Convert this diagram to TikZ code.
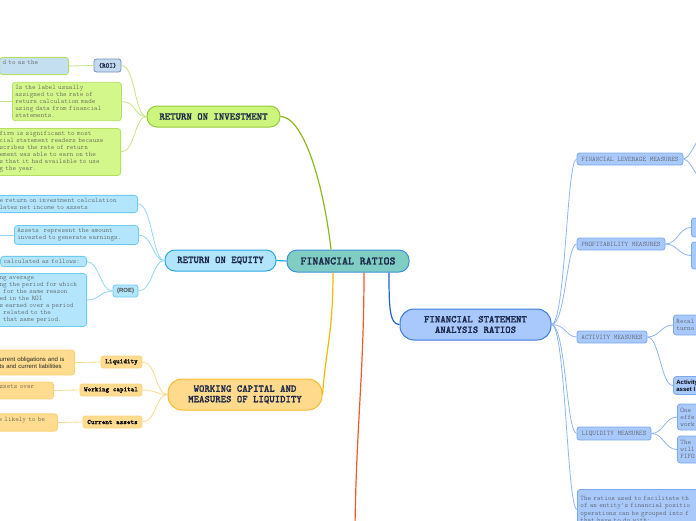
\documentclass[tikz,border=0pt]{standalone}
\usepackage{fontspec}
\setmonofont{lmmonolt10-regular.otf}[BoldFont=lmmonolt10-bold.otf]
\newfontfamily\headtt{lmmonolt10-bold.otf}[FakeBold=1.2]
\newfontfamily\arialf{Liberation Sans}
\definecolor{frfill}{HTML}{80CDC4}
\definecolor{frdraw}{HTML}{3D8FD6}
\definecolor{navy}{HTML}{1B2748}
\definecolor{roifill}{HTML}{CCF57E}
\definecolor{roidraw}{HTML}{95C935}
\definecolor{roiline}{HTML}{8CB81C}
\definecolor{roicfill}{HTML}{D4F78C}
\definecolor{roicdraw}{HTML}{B6DF62}
\definecolor{roiclink}{HTML}{C6E383}
\definecolor{tagfill}{HTML}{C5DAEF}
\definecolor{tagdraw}{HTML}{6F8EBE}
\definecolor{tagcfill}{HTML}{C3DFF0}
\definecolor{roefill}{HTML}{B2E5FB}
\definecolor{roedraw}{HTML}{29A9E1}
\definecolor{roeline}{HTML}{22A7E0}
\definecolor{roecfill}{HTML}{B3E6FC}
\definecolor{roecdraw}{HTML}{6DCBF2}
\definecolor{roeclink}{HTML}{93D6F3}
\definecolor{wclfill}{HTML}{FFDA8C}
\definecolor{wcldraw}{HTML}{F6BB2C}
\definecolor{wclline}{HTML}{F5B800}
\definecolor{wclcfill}{HTML}{FFDC8F}
\definecolor{wclcdraw}{HTML}{FBD27A}
\definecolor{wclclink}{HTML}{FBD98A}
\definecolor{orangeline}{HTML}{F2582B}
\definecolor{fsfill}{HTML}{A9C9FC}
\definecolor{fsdraw}{HTML}{3C7CDF}
\definecolor{fsline}{HTML}{1E60D8}
\definecolor{fscfill}{HTML}{A9C9FB}
\definecolor{fscdraw}{HTML}{7BA9EE}
\definecolor{fsclink}{HTML}{8FB5F0}
\definecolor{txt}{HTML}{4A4A4A}
\begin{document}
\begin{tikzpicture}[x=1pt,y=-1pt,
  mainbox/.style={draw, line width=1pt, rounded corners=10pt, font=\headtt\fontsize{10.3}{10.5}\selectfont, text=navy, align=center, inner sep=0pt},
  subbox/.style={draw, line width=0.8pt, rounded corners=2.5pt, font=\ttfamily\fontsize{6.85}{7}\selectfont, text=txt, inner sep=0pt, align=center, minimum height=12pt},
  notebox/.style={draw, line width=0.8pt, rounded corners=3pt, font=\ttfamily\fontsize{6.85}{7.05}\selectfont, text=txt, inner xsep=3pt, inner ysep=3pt, align=left},
  boldtt/.style={font=\headtt\fontsize{6.85}{7}\selectfont},
  roilink/.style={draw=roiclink, line width=0.8pt},
  roelink/.style={draw=roeclink, line width=0.8pt},
  wcllink/.style={draw=wclclink, line width=0.8pt},
  fslink/.style={draw=fsclink, line width=0.8pt}]
\useasboundingbox (0,0) rectangle (696,520);
\clip (0,0) rectangle (696,520);

% main nodes
\node[mainbox, fill=frfill, draw=frdraw, minimum width=122pt, minimum height=22pt, font=\headtt\fontsize{11.3}{12}\selectfont] (fr) at (348,261) {FINANCIAL RATIOS};
\node[mainbox, fill=roifill, draw=roidraw, minimum width=133pt, minimum height=21pt] (roi) at (213.5,116.5) {RETURN ON INVESTMENT};
\node[mainbox, fill=roefill, draw=roedraw, minimum width=111pt, minimum height=21pt] (roe) at (220.5,260.5) {RETURN ON EQUITY};
\node[mainbox, fill=wclfill, draw=wcldraw, minimum width=154pt, minimum height=31pt, rounded corners=14pt] (wcl) at (245,394.5) {WORKING CAPITAL AND\\MEASURES OF LIQUIDITY};
\node[mainbox, fill=fsfill, draw=fsdraw, minimum width=151pt, minimum height=31pt, rounded corners=14pt] (fsar) at (475.5,324.5) {FINANCIAL STATEMENT\\ ANALYSIS RATIOS};

% ROI branch
\node[subbox, boldtt, text=navy, fill=tagfill, draw=tagdraw, minimum width=27pt, minimum height=13pt] (roitag) at (107.5,65.5) {(ROI)};
\node[notebox, fill=tagcfill, draw=roicdraw, text width=63pt, anchor=east] (roitagc) at (69,66) {d to as the\\\mbox{}};
\node[notebox, fill=roicfill, draw=roicdraw, text width=103pt, anchor=west] (roi2) at (12,101.5) {Is the label usually\\assigned to the rate of\\return calculation made\\using data from financial\\statements.};
\node[notebox, fill=roicfill, draw=roicdraw, text width=118pt, anchor=east] (roi3) at (121,152) {firm is significant to most\\cial statement readers because\\scribes the rate of return\\ement was able to earn on the\\s that it had available to use\\g the year.};

% ROE branch
\node[subbox, font=\arialf\bfseries\fontsize{6}{7}\selectfont, text=txt, fill=roecfill, draw=roecdraw, minimum width=25pt] (roetag) at (125.5,291) {(ROE)};
\node[notebox, fill=roecfill, draw=roecdraw, text width=135pt, anchor=east] (roe1) at (138,204) {e return on investment calculation\\lates net income to assets};
\node[notebox, fill=roecfill, draw=roecdraw, text width=118pt, anchor=west] (roe2) at (14,235) {Assets\ \ represent the amount\\invested to generate earnings.};
\node[notebox, fill=roecfill, draw=roecdraw, text width=80pt, anchor=east] (roea) at (87,261.5) {calculated as follows:};
\node[notebox, fill=roecfill, draw=roecdraw, text width=84pt, anchor=east] (roeb) at (87,300) {ng average\\ng the period for which\\\phantom{x}for the same reason\\ed in the ROI\\s earned over a period\\\phantom{x}related to the\\\phantom{x}that same period.};

% WCL branch
\node[subbox, boldtt, text=black, fill=wclcfill, draw=wclcdraw, minimum width=41pt] (liq) at (121.5,362) {Liquidity};
\node[subbox, boldtt, text=black, fill=wclcfill, draw=wclcdraw, minimum width=62pt] (wc) at (111,390) {Working capital};
\node[subbox, boldtt, text=black, fill=wclcfill, draw=wclcdraw, minimum width=59pt] (ca) at (112.5,422) {Current assets};
\node[notebox, font=\arialf\fontsize{6}{7}\selectfont, text=black!85, fill=wclcfill, draw=wclcdraw, text width=72pt, minimum height=25pt, anchor=east] (liqc) at (75,362.5) {urrent obligations and is\\ts and current liabilities};
\node[notebox, fill=wclcfill, draw=wclcdraw, text width=51pt, anchor=east] (wcc) at (54,390.5) {ssets over\\\mbox{}};
\node[notebox, fill=wclcfill, draw=wclcdraw, text width=56pt, anchor=east] (cac) at (58,422.5) {e likely to be\\\mbox{}};

% FSAR branch
\node[subbox, fill=fscfill, draw=fscdraw, minimum width=106pt] (flm) at (630,159) {FINANCIAL LEVERAGE MEASURES};
\node[subbox, fill=fscfill, draw=fscdraw, minimum width=88pt] (pm) at (621,244) {PROFITABILITY MEASURES};
\node[subbox, fill=fscfill, draw=fscdraw, minimum width=70pt] (am) at (612,337) {ACTIVITY MEASURES};
\node[subbox, fill=fscfill, draw=fscdraw, minimum width=74pt, minimum height=13pt] (lm) at (614,433.5) {LIQUIDITY MEASURES};
\node[notebox, fill=fscfill, draw=fscdraw, text width=60pt, minimum height=19pt, anchor=west] (pc1) at (691,227.5) {\mbox{}};
\node[notebox, fill=fscfill, draw=fscdraw, text width=60pt, minimum height=27pt, anchor=west] (pc2) at (691,255.5) {\mbox{}};
\node[notebox, fill=fscfill, draw=fscdraw, text width=60pt, minimum height=20pt, anchor=west] (ac1) at (673,325) {Recal\\turno};
\node[notebox, font=\arialf\bfseries\fontsize{6}{7}\selectfont, text=black, fill=fscfill, draw=fscdraw, text width=60pt, minimum height=18pt, anchor=west] (ac2) at (673,385.5) {Activity\\asset l};
\node[notebox, fill=fscfill, draw=fscdraw, text width=60pt, minimum height=26pt, anchor=west] (lc1) at (677,417) {One\\effe\\work};
\node[notebox, fill=fscfill, draw=fscdraw, text width=60pt, minimum height=27pt, anchor=west] (lc2) at (677,449.5) {The\\will\\FIFO};
\node[notebox, fill=fscfill, draw=fscdraw, text width=200pt, minimum height=40pt, anchor=north west] (rat) at (577,489) {The ratios used to facilitate th\\of an entity's financial positio\\operations can be grouped into f\\that have to do with:};

% free ends
\coordinate (roi2out) at (-10,101.5);
\coordinate (roe2out) at (-10,235);
\coordinate (flo1) at (710,125);
\coordinate (flo2) at (710,190);
\coordinate (down) at (355,530);

% main connectors
\draw[roiline, line width=1.2pt] (roi.east) .. controls +(22,0) and +(-8,-70) .. ([xshift=-17pt]fr.north);
\draw[roeline, line width=1.2pt] (fr.west) -- (roe.east);
\draw[wclline, line width=1.2pt] ([xshift=-15pt]fr.south) .. controls +(0,60) and +(4,-50) .. (wcl.east);
\draw[orangeline, line width=1.2pt] ([xshift=16pt]fr.south) .. controls +(0,100) and +(1,-100) .. (down);
\draw[fsline, line width=1.2pt] ([xshift=41pt]fr.south) .. controls +(0,35) and +(-10,0) .. (fsar.west);

% ROI links
\draw[roilink] (roi.west) .. controls +(-12,0) and +(14,0) .. (roitag.east);
\draw[roilink] (roi.west) .. controls +(-12,0) and +(14,0) .. (roi2.east);
\draw[roilink] (roi.west) .. controls +(-12,0) and +(14,0) .. (roi3.east);
\draw[roilink] (roitag.west) -- (roitagc.east);
\draw[roilink] (roi2.west) -- (roi2out);

% ROE links
\draw[roelink] (roe.west) .. controls +(-12,0) and +(14,0) .. (roe1.east);
\draw[roelink] (roe.west) .. controls +(-12,0) and +(14,0) .. (roe2.east);
\draw[roelink] (roe.west) .. controls +(-12,0) and +(14,0) .. (roetag.east);
\draw[roelink] (roetag.west) .. controls +(-12,0) and +(12,0) .. (roea.east);
\draw[roelink] (roetag.west) .. controls +(-12,0) and +(12,0) .. (roeb.east);
\draw[roelink] (roe2.west) -- (roe2out);

% WCL links
\draw[wcllink] (wcl.west) .. controls +(-12,0) and +(14,0) .. (liq.east);
\draw[wcllink] (wcl.west) .. controls +(-12,0) and +(14,0) .. (wc.east);
\draw[wcllink] (wcl.west) .. controls +(-12,0) and +(14,0) .. (ca.east);
\draw[wcllink] (liq.west) -- (liqc.east);
\draw[wcllink] (wc.west) -- (wcc.east);
\draw[wcllink] (ca.west) -- (cac.east);

% FSAR links
\draw[fslink] (fsar.east) .. controls +(14,0) and +(-10,0) .. (flm.west);
\draw[fslink] (fsar.east) .. controls +(14,0) and +(-10,0) .. (pm.west);
\draw[fslink] (fsar.east) .. controls +(14,0) and +(-10,0) .. (am.west);
\draw[fslink] (fsar.east) .. controls +(14,0) and +(-10,0) .. (lm.west);
\draw[fslink] (fsar.east) .. controls +(14,0) and +(-10,0) .. (rat.west);
\draw[fslink] (flm.east) .. controls +(8,0) and +(-8,0) .. (flo1);
\draw[fslink] (flm.east) .. controls +(8,0) and +(-8,0) .. (flo2);
\draw[fslink] (pm.east) .. controls +(12,0) and +(-12,0) .. (pc1.west);
\draw[fslink] (pm.east) .. controls +(12,0) and +(-12,0) .. (pc2.west);
\draw[fslink] (am.east) .. controls +(12,0) and +(-12,0) .. (ac1.west);
\draw[fslink] (am.east) .. controls +(12,0) and +(-12,0) .. (ac2.west);
\draw[fslink] (lm.east) .. controls +(12,0) and +(-12,0) .. (lc1.west);
\draw[fslink] (lm.east) .. controls +(12,0) and +(-12,0) .. (lc2.west);
\end{tikzpicture}
\end{document}
